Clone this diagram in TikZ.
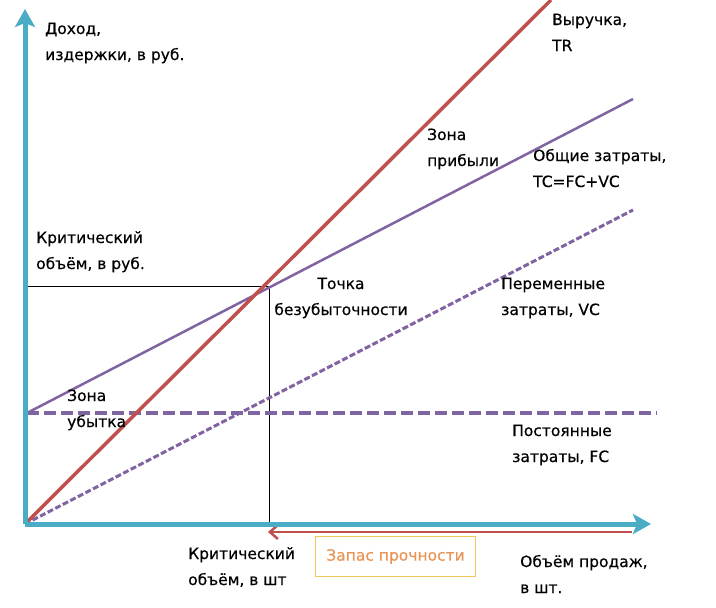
\documentclass[tikz,border=0pt]{standalone}
\usepackage{fontspec}
\setmainfont{DejaVu Sans}[FakeBold=0.4]
\usetikzlibrary{arrows.meta}
\definecolor{axisblue}{RGB}{75,172,198}
\definecolor{trred}{RGB}{192,80,77}
\definecolor{costviolet}{RGB}{128,100,162}
\definecolor{boxgold}{RGB}{242,200,90}
\definecolor{zapasorange}{RGB}{233,148,85}
\begin{document}
\begin{tikzpicture}[x=1pt,y=-1pt,
	axis/.style={line width=5pt,axisblue,-{Stealth[length=18pt,width=20pt,inset=4pt]}},
	lbl/.style={anchor=base west,align=left,inner sep=0pt,font=\fontsize{15.5}{26}\selectfont},
	guide/.style={black,line width=1pt},
	zbox/.style={draw=boxgold,line width=1pt,text=zapasorange,minimum width=160pt,minimum height=40pt,
		inner sep=0pt,font=\fontsize{15.5}{26}\selectfont}]
	\useasboundingbox (0,0) rectangle (716,608);
	
	\coordinate (O) at (25,524);
	\coordinate (ytip) at (25,9);
	\coordinate (xtip) at (651,524);
	\coordinate (BE) at (269,286);
	\coordinate (ky) at (27,286);
	\coordinate (kx) at (269,524);
	\coordinate (fc0) at (27,413);
	\coordinate (fc1) at (657,413);
	\coordinate (tc1) at (633,99);
	\coordinate (vc1) at (633,210);
	\coordinate (tr1) at (551,0);
	\coordinate (ml) at (268,532);
	\coordinate (mr) at (632,532);
	
	% critical volume
	\draw[guide] (ky) -- (BE) -- (kx);
	
	% costs and revenue
	\draw[costviolet,line width=4pt,dash pattern=on 12pt off 5pt] (fc0) -- (fc1);
	\draw[costviolet,line width=3pt,dash pattern=on 6pt off 2.5pt] (O) -- (vc1);
	\draw[costviolet,line width=2.5pt] (fc0) -- (tc1);
	\draw[trred,line width=3.5pt] (O) -- (tr1);
	
	% safety margin
	\draw[trred,line width=2.5pt,-{Straight Barb[length=8pt,width=14pt]}] (mr) -- (ml);
	
	\draw[axis] (O) -- (ytip);
	\draw[axis] (O) -- (xtip);
	
	% labels: base = last line
	\node[lbl] (ylab) at (45,60) {Доход,\\издержки, в руб.};
	\node[lbl] (trlab) at (552,51) {Выручка,\\TR};
	\node[lbl] (profit) at (427,166) {Зона\\прибыли};
	\node[lbl] (tclab) at (533,187) {Общие затраты,\\TC=FC+VC};
	\node[lbl] (krub) at (36,269) {Критический\\объём, в руб.};
	\node[lbl,align=center,anchor=base] (belab) at (341,315) {Точка\\безубыточности};
	\node[lbl] (vclab) at (501,315) {Переменные\\затраты, VC};
	\node[lbl] (loss) at (67,427) {Зона\\убытка};
	\node[lbl] (fclab) at (512,462) {Постоянные\\затраты, FC};
	\node[lbl] (kst) at (188,585) {Критический\\объём, в шт};
	\node[lbl] (xlab) at (520,593) {Объём продаж,\\в шт.};
	\node[zbox,anchor=north west] (zapas) at (315,536) {Запас прочности};
\end{tikzpicture}
\end{document}
